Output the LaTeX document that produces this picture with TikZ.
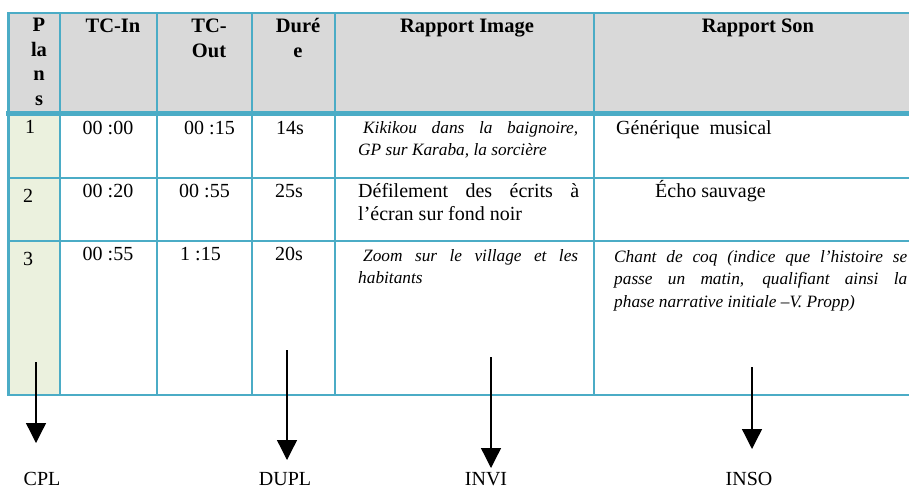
\documentclass[tikz,border=0pt]{standalone}
\usepackage{fontspec}
\setmainfont{Liberation Serif}
\usetikzlibrary{arrows.meta}
\definecolor{tabbleu}{HTML}{4BACC6}
\definecolor{entete}{HTML}{D9D9D9}
\definecolor{vertpale}{HTML}{EBF1DE}

\tikzset{
	grille/.style={line width=2.8pt, tabbleu, line cap=rect},
	txt/.style={inner sep=0pt, font=\fontsize{20}{23}\selectfont},
	tete/.style={inner sep=0pt, align=center, font=\fontsize{20.5}{24.5}\selectfont\bfseries},
	para/.style={inner sep=0pt, anchor=base west, align=justify, font=\fontsize{20}{23}\selectfont\sloppy},
	ital/.style={para, font=\fontsize{17.3}{22.5}\selectfont\itshape\sloppy},
	fleche/.style={line width=1.3pt, -{Triangle[width=20pt,length=20pt]}},
}

\begin{document}
\begin{tikzpicture}[x=1pt,y=-1pt]% plans du film
	\useasboundingbox (0,0) rectangle (909,488);
	\fill[entete] (8,13) rectangle (909,113);
	\fill[vertpale] (8,113) rectangle (60,395);

	\foreach \y in {13,178,241,395}
		\draw[grille] (8,\y) -- (909,\y);
	\draw[grille, line width=5pt] (8,113) -- (909,113);
	\foreach \x in {8.5,60,157,252,335,594}
		\draw[grille] (\x,13) -- (\x,395);

	% en-tete (base = derniere ligne)
	\node[tete, anchor=base] (hplans) at (39,105) {P\\la\\n\\s};
	\node[tete, anchor=base] (htcin) at (113,32) {TC-In};
	\node[tete, anchor=base] (htcout) at (209,57) {TC-\\Out};
	\node[tete, anchor=base] (hduree) at (298,57) {Duré\\e};
	\node[tete, anchor=base] (himage) at (467,32) {Rapport Image};
	\node[tete, anchor=base] (hson) at (758,32) {Rapport Son};

	% plan 1
	\node[txt, anchor=base west] (p1) at (25,133) {1};
	\node[txt, anchor=base] (in1) at (108,134) {00 :00};
	\node[txt, anchor=base west] (out1) at (184,134) {00 :15};
	\node[txt, anchor=base west] (dur1) at (276,134) {14s};
	\node[ital, text width=220pt] (img1) at (358,133) {\hspace*{5pt}Kikikou dans la baignoire,\linebreak GP sur Karaba, la sorcière};
	\node[txt, anchor=base west] (son1) at (616,134) {Générique\ \ musical};

	% plan 2
	\node[txt, anchor=base west] (p2) at (23,202) {2};
	\node[txt, anchor=base] (in2) at (108,197) {00 :20};
	\node[txt, anchor=base west] (out2) at (179,197) {00 :55};
	\node[txt, anchor=base west] (dur2) at (275,197) {25s};
	\node[para, text width=221pt] (img2) at (358,197) {Défilement des écrits à\linebreak l’écran sur fond noir};
	\node[txt, anchor=base west] (son2) at (655,197) {Écho sauvage};

	% plan 3
	\node[txt, anchor=base west] (p3) at (23,265) {3};
	\node[txt, anchor=base] (in3) at (108,260) {00 :55};
	\node[txt, anchor=base west] (out3) at (180,260) {1 :15};
	\node[txt, anchor=base west] (dur3) at (275,260) {20s};
	\node[ital, text width=220pt] (img3) at (358,261) {\hspace*{5pt}Zoom sur le village et les\linebreak habitants};
	\node[ital, text width=293pt] (son3) at (614,262) {Chant de coq (indice que l’histoire se\linebreak passe un matin, qualifiant ainsi la\linebreak phase narrative initiale –V. Propp)};

	% fleches
	\coordinate (cplh) at (36,362);
	\coordinate (cplb) at (36,443);
	\coordinate (duplh) at (287,350);
	\coordinate (duplb) at (287,460);
	\coordinate (invih) at (491,357);
	\coordinate (invib) at (491,468);
	\coordinate (insoh) at (752,367);
	\coordinate (insob) at (752,449);
	\draw[fleche] (cplh) -- (cplb);
	\draw[fleche] (duplh) -- (duplb);
	\draw[fleche] (invih) -- (invib);
	\draw[fleche] (insoh) -- (insob);
	\node[txt, anchor=base] (cpl) at (42,485) {CPL};
	\node[txt, anchor=base] (dupl) at (285,485) {DUPL};
	\node[txt, anchor=base] (invi) at (486,485) {INVI};
	\node[txt, anchor=base] (inso) at (749,485) {INSO};
\end{tikzpicture}
\end{document}
